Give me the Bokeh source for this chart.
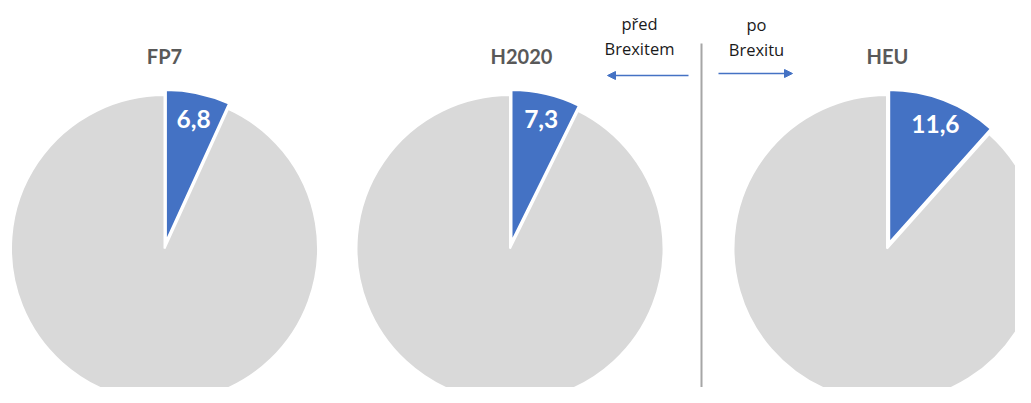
import math
from bokeh.plotting import figure
from bokeh.models import ColumnDataSource, Range1d, Arrow, NormalHead
from bokeh.core.properties import value
from bokeh.embed import file_html
from bokeh.resources import INLINE

# ---- data ----
programmes = ["FP7", "H2020", "HEU"]
uk_share = [6.8, 7.3, 11.6]
share_labels = ["6,8", "7,3", "11,6"]
note_before = ["před", "Brexitem"]
note_after = ["po", "Brexitu"]

# ---- layout (picture pixels) ----
W, H = 1015, 387
def py(page_y):
    return H - page_y

centers_x = [164, 509.5, 886.5]
center_y = py(248)
radius = 153.5
explode = 5.5
label_r = 133
title_x = [164, 521, 887]
title_y = py(55)

BLUE = "#4472c4"
GREY = "#d9d9d9"

p = figure(width=W, height=H, output_backend="svg", toolbar_location=None,
           x_range=Range1d(0, W), y_range=Range1d(0, H),
           min_border=0, outline_line_color=None)
p.axis.visible = False
p.grid.visible = False
p.background_fill_color = "white"
p.border_fill_color = "white"

fr = [v / 100.0 for v in uk_share]
top = math.pi / 2
bis = [f * math.pi for f in fr]  # bisector angle from 12 o'clock (clockwise)

grey_src = ColumnDataSource(dict(
    x=centers_x, y=[center_y] * 3,
    start=[top] * 3, end=[top - f * 2 * math.pi for f in fr]))
blue_src = ColumnDataSource(dict(
    x=[cx + explode * math.sin(b) for cx, b in zip(centers_x, bis)],
    y=[center_y + explode * math.cos(b) for b in bis],
    start=[top - f * 2 * math.pi for f in fr], end=[top] * 3))

p.wedge(x="x", y="y", radius=radius, start_angle="start", end_angle="end",
        direction="anticlock", source=grey_src, fill_color=GREY,
        line_color="white", line_width=2)
p.wedge(x="x", y="y", radius=radius, start_angle="start", end_angle="end",
        direction="anticlock", source=blue_src, fill_color=BLUE,
        line_color="white", line_width=2.5)

lab_src = ColumnDataSource(dict(
    x=[cx + label_r * math.sin(b) + 1 for cx, b in zip(centers_x, bis)],
    y=[center_y + label_r * math.cos(b) for b in bis],
    t=share_labels))
p.text(x="x", y="y", text="t", source=lab_src, text_color="white",
       text_font=value("Lato"), text_font_style="bold", text_font_size="24.5px",
       text_align="center", text_baseline="middle")

tit_src = ColumnDataSource(dict(x=title_x, y=[title_y] * 3, t=programmes))
p.text(x="x", y="y", text="t", source=tit_src, text_color="#595959",
       text_font=value("Lato"), text_font_style="bold", text_font_size="20px",
       text_align="center", text_baseline="middle")

# divider and notes
p.segment(x0=[701], y0=[py(43)], x1=[701], y1=[py(400)],
          line_color="#a6a6a6", line_width=2)

note_src = ColumnDataSource(dict(
    x=[639, 639, 756, 756],
    y=[py(23), py(48), py(24), py(49)],
    t=note_before + note_after))
p.text(x="x", y="y", text="t", source=note_src, text_color="#1a1a1a",
       text_font=value("Open Sans"), text_font_size="16.5px",
       text_align="center", text_baseline="middle")

p.add_layout(Arrow(end=NormalHead(size=8, fill_color=BLUE, line_color=BLUE),
                   x_start=688, y_start=py(75), x_end=607, y_end=py(75),
                   line_color=BLUE, line_width=1.5))
p.add_layout(Arrow(end=NormalHead(size=8, fill_color=BLUE, line_color=BLUE),
                   x_start=718, y_start=py(73), x_end=792, y_end=py(73),
                   line_color=BLUE, line_width=1.5))

open("out.html", "w").write(file_html(p, INLINE))
